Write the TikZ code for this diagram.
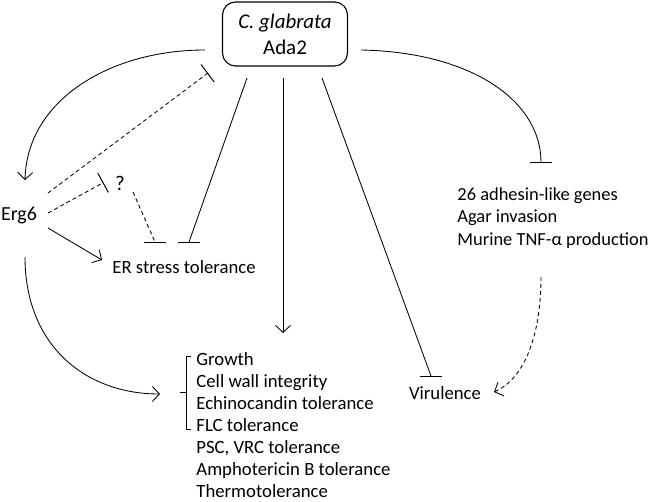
\documentclass[tikz,border=0pt]{standalone}
\usepackage{fontspec}
\setmainfont{Carlito}
\usetikzlibrary{arrows.meta}
\begin{document}
\begin{tikzpicture}[x=1bp,y=-1bp, line width=0.85bp,
  lbl/.style={font=\fontsize{18.8}{22.4}\selectfont, inner sep=0},
  arr/.style={-{Straight Barb[length=7bp,width=15bp]}},
  inh/.style={-{Bar[width=22bp,line width=1bp]}},
  dsh/.style={dash pattern=on 4bp off 3bp}]
\useasboundingbox (0,0) rectangle (650,502);
% nodes
\node[draw, rounded corners=13bp, line width=1.1bp, minimum width=125bp, minimum height=64bp,
      font=\fontsize{21}{26}\selectfont, align=center, inner sep=0] (ada) at (285,34)
      {\textit{C. glabrata}\\Ada2};
\node[font=\fontsize{20}{24}\selectfont, inner sep=0] (erg) at (19,215) {Erg6};
\node[font=\fontsize{21}{24}\selectfont, inner sep=0] (q) at (120,183) {?};
\node[lbl, anchor=west] (er) at (112,267) {ER stress tolerance};
\node[lbl, font=\fontsize{18.8}{22.1}\selectfont, anchor=north west, align=left] (pheno) at (196,352)
  {Growth\\Cell wall integrity\\Echinocandin tolerance\\FLC tolerance\\PSC, VRC tolerance\\Amphotericin B tolerance\\Thermotolerance};
\node[lbl, font=\fontsize{18.5}{22.2}\selectfont, anchor=west, align=left] (adh) at (457,218)
  {26 adhesin-like genes\\Agar invasion\\Murine TNF-α production};
\node[lbl] (vir) at (445,393) {Virulence};
% coordinates
\coordinate (aL) at (205,50);
\coordinate (aR) at (361,50);
\coordinate (a1) at (247,78);
\coordinate (a2) at (283,78);
\coordinate (a3) at (322,78);
\coordinate (eTop) at (25,180);
\coordinate (eBot) at (25,257);
\coordinate (e1) at (48,193);
\coordinate (e2) at (48,213);
\coordinate (e3) at (48,228);
\coordinate (b1) at (208,73);
\coordinate (b2) at (103.5,182.5);
\coordinate (q1) at (133,192);
\coordinate (q2) at (155,242);
\coordinate (s2) at (189,242);
\coordinate (erT) at (102,260);
\coordinate (vT) at (283,333);
\coordinate (virT) at (431,376);
\coordinate (adhT) at (541,163);
\coordinate (adhB) at (541,277);
\coordinate (virR) at (494,392);
\coordinate (brT) at (160,394);
% connectors
\draw[arr] (aL) .. controls (110,50) and (27,100) .. (eTop);
\draw[inh, dsh] (e1) -- (b1);
\draw[inh, dsh] (e2) -- (b2);
\draw[dsh] (q1) -- (q2);
\draw (144,242) -- (166,242);
\draw (a1) -- (s2);
\draw (178,242) -- (200,242);
\draw[arr] (e3) -- (erT);
\draw[arr] (a2) -- (vT);
\draw (a3) -- (virT);
\draw (420,376) -- (442,376);
\draw[inh] (aR) .. controls (470,52) and (541,100) .. (adhT);
\draw[arr, dsh] (adhB) .. controls (541,340) and (522,380) .. (virR);
\draw[arr] (eBot) .. controls (25,345) and (85,394) .. (brT);
% bracket
\draw (191,356) -- (186,356) -- (186,429) -- (191,429);
\draw (180,392.5) -- (186,392.5);
\end{tikzpicture}
\end{document}
